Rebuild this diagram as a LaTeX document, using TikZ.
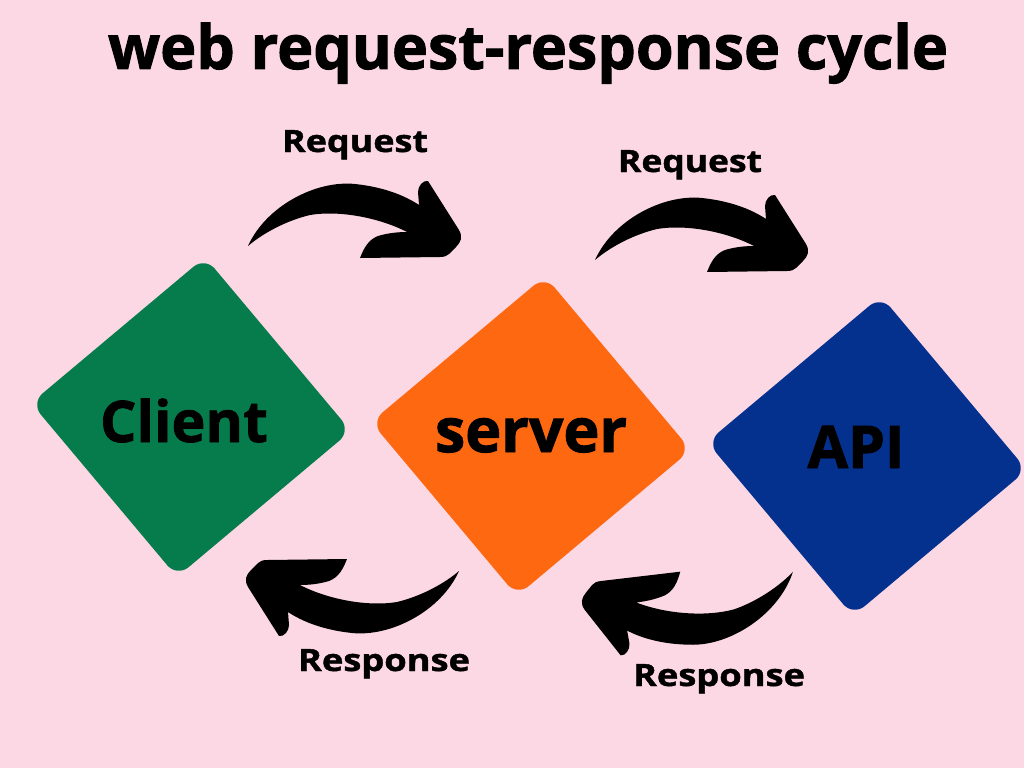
\documentclass[tikz,border=0pt]{standalone}
\usepackage{fontspec}
\setmainfont{Open Sans}
\newfontfamily\heavyfont[FakeBold=1.6]{Open Sans Bold}
\newfontfamily\labelfont[FakeBold=1.2]{Open Sans Bold}
\usepackage{graphicx}
\definecolor{bg}{HTML}{FCD8E4}
\definecolor{clientgreen}{HTML}{067B4C}
\definecolor{serverorange}{HTML}{FE6811}
\definecolor{apiblue}{HTML}{04308E}
\tikzset{
  cyclearrow/.pic={
    \fill[black] (248,246) .. controls (266,206) and (316,180) .. (355,184)
      .. controls (383,187) and (404,195) .. (419,205)
      -- (418,192) .. controls (418,186) and (423,180) .. (428,181)
      -- (459,230) .. controls (463,237) and (461,242) .. (456,247)
      -- (449,254) .. controls (447,256) and (444,257) .. (440,257)
      -- (360,258) .. controls (364,248) and (368,240) .. (378,236)
      .. controls (388,233) and (398,232) .. (407,232)
      .. controls (380,218) and (340,210) .. (310,215)
      .. controls (285,221) and (262,234) .. (248,246) -- cycle;
  },
  diamondbox/.style={rectangle, draw=none, minimum size=227pt, inner sep=0pt,
    rounded corners=15pt, rotate=40},
  lbl/.style={anchor=base, inner sep=0pt}
}
\begin{document}
\begin{tikzpicture}[x=1pt,y=-1pt]
\fill[bg] (0,0) rectangle (1024,768);
\useasboundingbox (0,0) rectangle (1024,768);

% title
\node (title) [lbl] at (528,69) {\fontsize{62}{62}\heavyfont\resizebox{840pt}{!}{web request-response cycle}};

% boxes
\node (client) [diamondbox, fill=clientgreen] at (191,417) {};
\node (server) [diamondbox, fill=serverorange] at (531,436) {};
\node (api) [diamondbox, fill=apiblue] at (867,456) {};

\node (clienttext) [lbl] at (184,442) {\fontsize{62}{62}\labelfont\resizebox{168pt}{!}{Client}};
\node (servertext) [lbl] at (531,452) {\fontsize{62}{62}\heavyfont\resizebox{192pt}{!}{server}};
\node (apitext) [lbl] at (856,468) {\fontsize{62}{62}\heavyfont\resizebox{97pt}{!}{API}};

% arrows
\pic {cyclearrow};
\begin{scope}[shift={(347,14)}]
  \pic {cyclearrow};
\end{scope}
\begin{scope}[shift={(707,817)}, rotate=180]
  \pic[transform shape] {cyclearrow};
\end{scope}
\begin{scope}[shift={(792,573)}, rotate=6, shift={(-458,-572)}]
  \begin{scope}[shift={(707,817)}, rotate=180]
    \pic[transform shape] {cyclearrow};
  \end{scope}
\end{scope}

% arrow labels
\node (req1) [lbl] at (355,152) {\fontsize{26}{26}\labelfont\resizebox{146pt}{22pt}{Request}};
\node (req2) [lbl] at (690,172) {\fontsize{26}{26}\labelfont\resizebox{144pt}{22pt}{Request}};
\node (resp1) [lbl] at (384,671) {\fontsize{26}{26}\labelfont\resizebox{172pt}{22pt}{Response}};
\node (resp2) [lbl] at (719,686) {\fontsize{26}{26}\labelfont\resizebox{172pt}{22pt}{Response}};
\end{tikzpicture}
\end{document}
